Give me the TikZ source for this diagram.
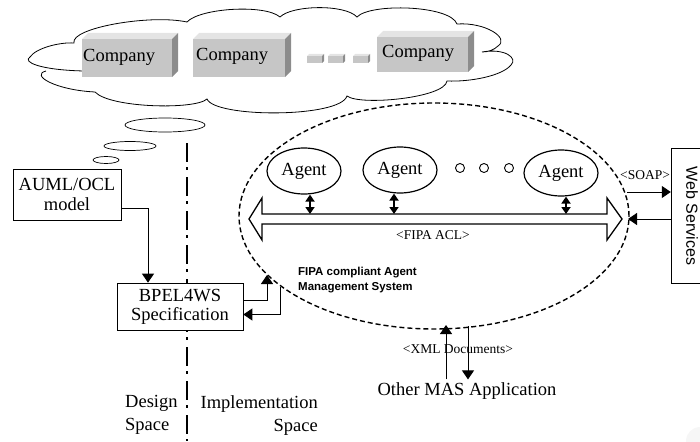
\documentclass[tikz,border=0pt]{standalone}
\usepackage{fontspec}
\setmainfont{Liberation Serif}
\newfontfamily\arialfont{Liberation Sans}
\usetikzlibrary{arrows.meta,shapes.geometric}
\definecolor{boxfront}{RGB}{198,198,198}
\definecolor{boxtop}{RGB}{228,228,228}
\definecolor{boxside}{RGB}{140,140,140}
\newcommand{\companybox}[4]{%
  \fill[boxfront] (#1,#2) rectangle (#3,#4);
  \fill[boxtop] (#1,#2) -- ({#1+6},{#2-6}) -- ({#3+6},{#2-6}) -- (#3,#2) -- cycle;
  \fill[boxside] (#3,#2) -- ({#3+6},{#2-6}) -- ({#3+6},{#4-6}) -- (#3,#4) -- cycle;
}
\newcommand{\smallbox}[4]{%
  \fill[boxfront] (#1,#2) rectangle (#3,#4);
  \fill[boxtop] (#1,#2) -- ({#1+2},{#2-2}) -- ({#3+2},{#2-2}) -- (#3,#2) -- cycle;
  \fill[boxside] (#3,#2) -- ({#3+2},{#2-2}) -- ({#3+2},{#4-2}) -- (#3,#4) -- cycle;
}
\tikzset{
  big/.style={font=\fontsize{18.5}{20}\selectfont},
  small/.style={font=\fontsize{13.5}{15}\selectfont},
  tip/.style={-{Triangle[width=12pt,length=9pt]}, line width=1pt},
  dtip/.style={{Triangle[width=9pt,length=7pt]}-{Triangle[width=9pt,length=7pt]}, line width=1.8pt},
  plainbox/.style={draw, fill=white, line width=0.7pt, inner sep=0pt, align=center, font=\fontsize{18.5}{20}\selectfont},
  agent/.style={draw, ellipse, line width=1.2pt, minimum width=74pt, minimum height=46pt, inner sep=0pt, big},
  dotc/.style={draw, circle, minimum size=9pt, inner sep=0pt, line width=0.9pt},
  bubble/.style={line width=0.7pt},
}
\begin{document}
\begin{tikzpicture}[x=1pt,y=-1pt]
\useasboundingbox (0,0) rectangle (700,441);
% faint corner shading
\fill[gray!7] (700,441) circle (14);
% cloud
\draw[line width=0.8pt]
  (84,71) .. controls (40,70) and (22,62) .. (30,57)
  .. controls (36,48) and (60,42) .. (74,43)
  .. controls (70,28) and (150,14) .. (187,22)
  .. controls (200,8) and (265,4) .. (280,17)
  .. controls (292,5) and (345,4) .. (357,17)
  .. controls (370,3) and (450,5) .. (457,24)
  .. controls (485,22) and (510,38) .. (498,46)
  .. controls (494,50) and (488,52) .. (482,52)
  .. controls (505,48) and (518,58) .. (511,65)
  .. controls (502,76) and (470,82) .. (447,81)
  .. controls (445,98) and (360,106) .. (347,96)
  .. controls (340,118) and (215,118) .. (207,99)
  .. controls (195,110) and (110,108) .. (95,92)
  .. controls (55,90) and (30,75) .. (46,71);
% companies
\companybox{82}{39}{172}{77}
\companybox{193}{39}{285}{77}
\companybox{377}{37}{468}{72}
\smallbox{307}{56}{322}{63}
\smallbox{328}{56}{343}{63}
\smallbox{353}{56}{368}{63}
\node[big, anchor=west, inner sep=0pt] (c1) at (83,57) {Company};
\node[big, anchor=west, inner sep=0pt] (c2) at (196,56) {Company};
\node[big, anchor=west, inner sep=0pt] (c3) at (382,53) {Company};
% thought bubbles
\draw[bubble] (165,125) ellipse [x radius=40, y radius=7];
\draw[bubble] (130,146) ellipse [x radius=26, y radius=4.5];
\draw[bubble] (106,160) ellipse [x radius=13, y radius=3.5];
% design / implementation separator
\draw[line width=2.8pt, dash pattern=on 19pt off 5pt on 3pt off 7pt] (187,143) -- (187,441);
% AUML and BPEL boxes
\node[plainbox, minimum width=108pt, minimum height=51pt] (auml) at (67,194.5) {AUML/OCL\\model};
\node[plainbox, minimum width=126pt, minimum height=47pt, font=\fontsize{18.5}{19}\selectfont] (bpel) at (180,306.5) {BPEL4WS\\Specification};
\draw[tip] ([yshift=-13.5pt]auml.east) -| ([xshift=-32pt]bpel.north);
% MAS ellipse
\node[draw, ellipse, dash pattern=on 5pt off 3pt, line width=1.4pt, minimum width=390pt, minimum height=226pt, inner sep=0pt] (mas) at (434,216) {};
% agents
\node[agent] (a1) at (304,171) {Agent};
\node[agent] (a2) at (400,170) {Agent};
\node[agent] (a3) at (561,173) {Agent};
\node[dotc] (d1) at (460,168) {};
\node[dotc] (d2) at (484,168) {};
\node[dotc] (d3) at (509,168) {};
% FIPA ACL bus (hollow double arrow)
\draw[line width=1.3pt, fill=white] (249,219) -- (262,198) -- (262,214) -- (607,214) -- (607,198) -- (622,219)
  -- (607,240) -- (607,224) -- (262,224) -- (262,240) -- cycle;
\coordinate (b1) at (310,214);
\coordinate (b2) at (394,214);
\coordinate (b3) at (566,214);
\draw[dtip] (a1.south -| b1) -- (b1);
\draw[dtip] (a2.south -| b2) -- (b2);
\draw[dtip] (a3.south -| b3) -- (b3);
\node[small] (acl) at (433,235) {<FIPA ACL>};
\node[font=\arialfont\bfseries\fontsize{11.5}{15}\selectfont, align=left, anchor=west, inner sep=0pt] (fipa) at (298,280.5) {FIPA compliant Agent\\Management System};
% BPEL <-> MAS
\coordinate (u1) at (267,275);
\coordinate (u2) at (280,287);
\draw[tip] ([yshift=6pt]bpel.east) -| (u1);
\draw[tip] (u2) |- ([yshift=-8pt]bpel.east);
% Web services
\draw[line width=0.8pt] (671,148) rectangle (706,283);
\node[draw=none, minimum width=35pt, minimum height=135pt, inner sep=0pt] (ws) at (688.5,215.5) {};
\node[font=\arialfont\fontsize{16}{18}\selectfont, rotate=-90, inner sep=0pt] (wst) at (692,216) {Web Services};
\node[small] (soap) at (645,175) {<SOAP>};
\coordinate (s1) at (627,192);
\coordinate (s2) at (628,219);
\draw[tip] (s1) -- (s1 -| ws.west);
\draw[tip] (s2 -| ws.west) -- (s2);
% other MAS application
\node[big, inner sep=3pt] (oma) at (467,391) {Other MAS Application};
\node[small] (xml) at (458,349) {<XML Documents>};
\coordinate (x1) at (446,325);
\coordinate (x2) at (468,326);
\draw[tip] (oma.north -| x1) -- (x1);
\draw[tip] (x2) -- (oma.north -| x2);
% design / implementation labels
\node[big, align=left, inner sep=0pt, anchor=north west, font=\fontsize{18.5}{23.5}\selectfont] (ds) at (125,395) {Design\\Space};
\node[big, align=right, inner sep=0pt, anchor=north east, font=\fontsize{18.5}{23.5}\selectfont] (is) at (318,395) {Implementation\\Space};
\end{tikzpicture}
\end{document}
